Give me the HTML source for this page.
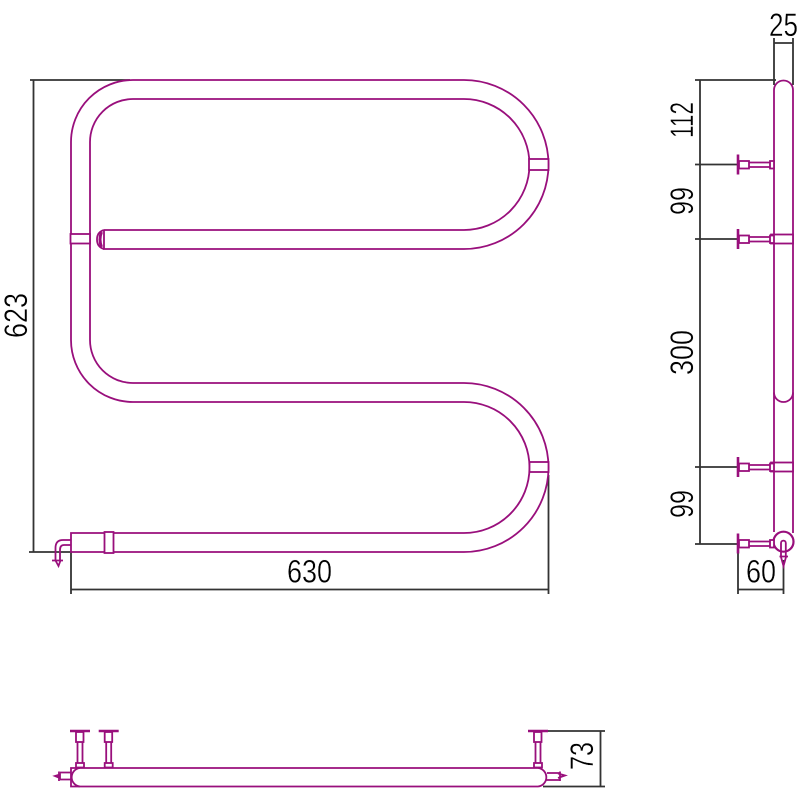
<!DOCTYPE html>
<html><head><meta charset="utf-8"><style>html,body{margin:0;padding:0;background:#fff}svg{display:block}</style></head><body>
<svg width="800" height="800" viewBox="0 0 800 800" xmlns="http://www.w3.org/2000/svg">
<defs><g id="ss" fill="#fff" stroke="#990f7c" stroke-width="1.8">
<path d="M738 -10V10" stroke-width="2.6"/>
<rect x="739" y="-3.5" width="10" height="7.5"/>
<path d="M749 -2H770M749 2.5H770"/>
<rect x="770" y="-3.5" width="4" height="7.5"/>
</g>
<g id="st" fill="#fff" stroke="#990f7c" stroke-width="1.8">
<path d="M-10 731H10" stroke-width="2.6"/>
<rect x="-4" y="732" width="7.5" height="10"/>
<path d="M-2.5 742V763M2.5 742V763"/>
<rect x="-4" y="763" width="8" height="4.5"/>
</g></defs>
<g fill="none" stroke="#333" stroke-width="1.8">
<path d="M33.5 80V552M30 80H130M29 552H71M71 552V594M71 589.500H548M548.500 475V594"/>
<path d="M700 80V544M695 80H776M695 164.500H738M695 239H738M695 467H738M695 544H738"/>
<path d="M774 38V85M793 38V85M774 43H793M738 545V594M783.500 560V594M738 589.500H783.500"/>
<path d="M545 731H605M543 786.500H605M600.500 731V786.500"/>
</g>
<g fill="none" stroke="#990f7c" stroke-width="1.8">
<path d="M104 230H464A65.500 65.500 0 0 0 464 99H133A43 43 0 0 0 90 142V340A43 43 0 0 0 133 383H464A84.500 84.500 0 0 1 464 552H71V533H464A65.500 65.500 0 0 0 464 402H133A62 62 0 0 1 71 340V142A62 62 0 0 1 133 80H464A84.500 84.500 0 0 1 464 249H104V230"/>
<path d="M104 230Q97 232 97 239.500Q97 247 104 249"/>
<path d="M101.500 232Q98.500 239.500 101.500 247" stroke-width="3"/>
<rect x="529" y="159" width="19.500" height="11" fill="#fff"/>
<rect x="529.500" y="462" width="19" height="10" fill="#fff"/>
<rect x="70.500" y="234" width="19.500" height="9.500" fill="#fff"/>
<rect x="104.500" y="532" width="9" height="21" fill="#fff"/>
<path d="M70.500 540H63Q55.500 540 55.500 548V560M70.500 545H64Q60 545 60 550V560"/>
<path d="M52 560.500H63M55.500 560.500L58.500 566L60.500 560.500"/>
</g>
<g fill="none" stroke="#990f7c" stroke-width="1.8">
<path d="M774 532V90A9.500 9.500 0 0 1 793 90V533"/>
<path d="M774 392.500A9.500 9.500 0 0 0 793 392.500"/>
<rect x="771" y="234.500" width="22" height="9" fill="#fff"/>
<rect x="771" y="462.500" width="22" height="9" fill="#fff"/>
<circle cx="783.500" cy="541.700" r="10" fill="#fff" stroke-width="2.2"/>
<path d="M781 556V543A2.400 2.400 0 0 1 785.800 543V556"/>
<path d="M779.500 556.500H788M781 557L783.500 566L786 557" stroke-width="1.800"/>
</g>
<use href="#ss" y="164.500"/><use href="#ss" y="239"/><use href="#ss" y="467"/><use href="#ss" y="543.500"/>
<use href="#st" x="80"/><use href="#st" x="108.700"/><use href="#st" x="538"/>
<g fill="none" stroke="#990f7c" stroke-width="1.800">
<path d="M71 768H538A9.300 9.300 0 0 1 538 786.500H71Z" fill="#fff"/>
<path d="M80 768A9.300 9.300 0 0 0 80 786.500"/>
<path d="M71 772.500H60M71 779.500H60M59 771.500V781M55 776L60 774.500V778Z"/>
<path d="M547 773H560M546 780H560M560 771.500V781M558 773.500L565 775.500L558 778"/>
</g>
<g font-family="'Liberation Sans',sans-serif" font-size="32" fill="#000" stroke="#fff" stroke-width=".4" paint-order="fill stroke">
<text x="287" y="582.500" textLength="45" lengthAdjust="spacingAndGlyphs">630</text>
<text x="746" y="582.500" textLength="30" lengthAdjust="spacingAndGlyphs">60</text>
<text x="769" y="36" textLength="29" lengthAdjust="spacingAndGlyphs">25</text>
<text transform="translate(27 338) rotate(-90)" textLength="45" lengthAdjust="spacingAndGlyphs">623</text>
<text transform="translate(693 138) rotate(-90)" textLength="36" lengthAdjust="spacingAndGlyphs">112</text>
<text transform="translate(693 215) rotate(-90)" textLength="28" lengthAdjust="spacingAndGlyphs">99</text>
<text transform="translate(693 375) rotate(-90)" textLength="45" lengthAdjust="spacingAndGlyphs">300</text>
<text transform="translate(693 518) rotate(-90)" textLength="28" lengthAdjust="spacingAndGlyphs">99</text>
<text transform="translate(593 770) rotate(-90)" textLength="28" lengthAdjust="spacingAndGlyphs">73</text>
</g>
</svg>
</body></html>
